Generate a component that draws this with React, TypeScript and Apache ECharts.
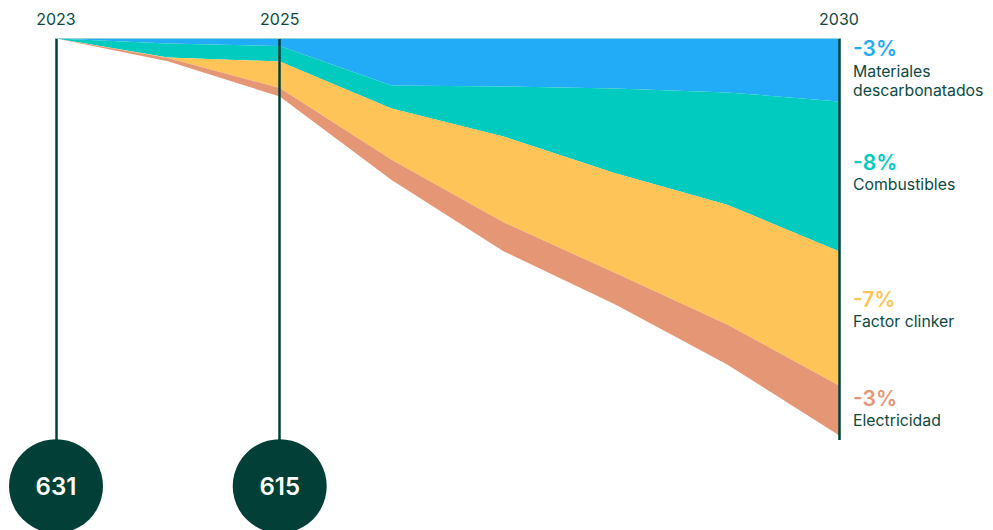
import React, { useEffect, useRef } from "react";
import * as echarts from "echarts";

const years = ["2023", "2024", "2025", "2026", "2027", "2028", "2029", "2030"];
const shownYears = ["2023", "2025", "2030"];
// stacked reduction (percentage points) per lever
const materiales = [0, -0.26, -0.4, -2.48, -2.54, -2.64, -2.85, -3.33];
const combustibles = [0, -0.74, -0.82, -1.22, -2.64, -4.49, -5.94, -7.92];
const clinker = [0, -0.03, -1.4, -2.72, -4.54, -5.28, -6.34, -7.1];
const electricidad = [0, -0.18, -0.45, -1.06, -1.53, -1.66, -2.11, -2.64];
const milestoneYears = ["2023", "2025"];
const milestoneValues = [631, 615];
const lineYears = ["2023", "2025", "2030"];
const endPct = ["-3%", "-8%", "-7%", "-3%"];
const endNames = [["Materiales", "descarbonatados"], ["Combustibles"], ["Factor clinker"], ["Electricidad"]];

const COLORS = ["#22abf7", "#00cbbe", "#fec457", "#e59675"];
const DARK = "#023f37";
const TEXT = "#0d4a41";
const FONT = "Inter, Roboto, 'Noto Sans', sans-serif";

export default function App() {
  const ref = useRef<HTMLDivElement>(null);
  useEffect(() => {
    if (!ref.current) return;
    const chart = echarts.init(ref.current, undefined, { renderer: "svg" });
    const seriesData = [materiales, combustibles, clinker, electricidad];
    const names = ["Materiales descarbonatados", "Combustibles", "Factor clinker", "Electricidad"];
    const lineBottom = -21.24;
    const circleY = -23.68;

    const areaSeries: any[] = seriesData.map((d, i) => ({
      name: names[i],
      type: "line",
      stack: "total",
      stackStrategy: "all",
      data: d,
      showSymbol: false,
      symbol: "none",
      lineStyle: { width: 0 },
      areaStyle: { color: COLORS[i], opacity: 1 },
      itemStyle: { color: COLORS[i] },
      z: 2,
    }));

    const labelYs = [
      [48, 71.5],
      [162, 184],
      [299.5, 321],
      [398, 420],
    ];
    const graphics: any[] = [];
    endPct.forEach((p, i) => {
      graphics.push({
        type: "text",
        x: 853,
        y: labelYs[i][0],
        style: {
          text: p,
          fill: COLORS[i],
          font: `600 21px ${FONT}`,
          verticalAlign: "middle",
        },
      });
      endNames[i].forEach((line, j) => {
        graphics.push({
          type: "text",
          x: 853,
          y: labelYs[i][1] + j * 19.2,
          style: {
            text: line,
            fill: TEXT,
            font: `400 15.8px ${FONT}`,
            verticalAlign: "middle",
          },
        });
      });
    });

    chart.setOption({
      animation: false,
      grid: { left: 56, right: 154, top: 38.5, bottom: 0, containLabel: false },
      xAxis: {
        type: "category",
        data: years,
        position: "top",
        boundaryGap: false,
        z: 5,
        axisTick: { show: false },
        axisLine: { show: true, lineStyle: { color: "#9dd2d4", width: 1 } },
        axisLabel: {
          interval: (idx: number) => shownYears.includes(years[idx]),
          margin: 12,
          fontSize: 16,
          fontFamily: FONT,
          color: TEXT,
        },
        splitLine: { show: false },
      },
      yAxis: {
        type: "value",
        min: -26,
        max: 0,
        show: false,
      },
      series: [
        ...areaSeries,
        {
          type: "line",
          data: [],
          markLine: {
            symbol: "none",
            silent: true,
            label: { show: false },
            lineStyle: { color: DARK, width: 2.5, type: "solid" },
            data: lineYears.map((y) => [
              { coord: [y, 0] },
              { coord: [y, lineBottom] },
            ]),
          },
          z: 4,
        },
        {
          type: "scatter",
          clip: false,
          symbolSize: 94,
          itemStyle: { color: DARK, opacity: 1 },
          data: milestoneYears.map((y, i) => [y, circleY, milestoneValues[i]]),
          label: {
            show: true,
            position: "inside",
            formatter: (p: any) => String(p.data[2]),
            color: "#ffffff",
            fontSize: 24,
            fontWeight: 600,
            fontFamily: FONT,
          },
          z: 6,
        },
      ],
      graphic: graphics,
    });
    return () => chart.dispose();
  }, []);
  return (
    <div
      ref={ref}
      style={{ position: "fixed", left: 0, top: 0, width: 993, height: 530, background: "#fff" }}
    />
  );
}
